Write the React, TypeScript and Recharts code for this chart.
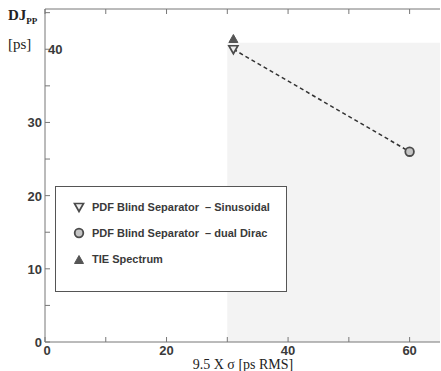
import React from 'react';
import { ScatterChart, Scatter, XAxis, YAxis, ReferenceArea } from 'recharts';

const xTicks = [0, 10, 20, 30, 40, 50, 60];
const xLabelTicks = [0, 20, 40, 60];
const yTicks = [0, 5, 10, 15, 20, 25, 30, 35, 40, 45];
const yLabelTicks = [0, 10, 20, 30, 40];

const sinusoidal = [{ x: 31, y: 40 }];
const dualDirac = [{ x: 60, y: 26 }];
const tieSpectrum = [{ x: 31, y: 41.4 }];
const trend = [...sinusoidal, ...dualDirac];

const legendItems = [
  { name: 'PDF Blind Separator  \u2013 Sinusoidal', shape: 'down' },
  { name: 'PDF Blind Separator  \u2013 dual Dirac', shape: 'circle' },
  { name: 'TIE Spectrum', shape: 'up' },
];

const INK = '#4a4a4a';
const tickFont = { fontFamily: '"Liberation Sans", Arial, sans-serif', fontWeight: 700, fontSize: 13, fill: '#3a3a3a' };

const TriDown = ({ cx, cy }: any) => (
  <path d={`M${cx - 4.5},${cy - 3.5} L${cx + 4.5},${cy - 3.5} L${cx},${cy + 4.5} Z`} fill="#eeeeee" stroke={INK} strokeWidth={1.7} />
);
const TriUp = ({ cx, cy }: any) => (
  <path d={`M${cx - 4.5},${cy + 3.5} L${cx + 4.5},${cy + 3.5} L${cx},${cy - 4.5} Z`} fill="#555" stroke="#555" strokeWidth={1} />
);
const Ring = ({ cx, cy }: any) => (
  <circle cx={cx} cy={cy} r={4.3} fill="#c4c4c4" stroke={INK} strokeWidth={1.8} />
);
const Nothing = () => <g />;

const bottomTick = ({ x, y, payload }: any) => (
  <g>
    <line x1={x} x2={x} y1={y} y2={y - 5} stroke="#777" />
    {xLabelTicks.includes(Number(payload.value)) ? (
      <text x={x + (payload.value === 0 ? 2 : 0)} y={y + 13} textAnchor="middle" {...tickFont}>{payload.value}</text>
    ) : null}
  </g>
);
const topTick = ({ x, y }: any) => <line x1={x} x2={x} y1={y} y2={y + 5} stroke="#777" />;
const leftTick = ({ x, y, payload }: any) => {
  const v = Number(payload.value);
  const right = v === 40;
  return (
    <g>
      <line x1={x} x2={x + 5} y1={y} y2={y} stroke="#777" />
      {yLabelTicks.includes(v) ? (
        <text x={right ? x + 3 : x - 3} y={y + 5} textAnchor={right ? 'start' : 'end'} {...tickFont}>{v}</text>
      ) : null}
    </g>
  );
};

const LegendIcon = ({ shape }: { shape: string }) => (
  <svg width={14} height={14} style={{ marginRight: 6 }}>
    {shape === 'down' && <TriDown cx={7} cy={7} />}
    {shape === 'up' && <TriUp cx={7} cy={8} />}
    {shape === 'circle' && <Ring cx={7} cy={7} />}
  </svg>
);

export default function App() {
  return (
    <div style={{ position: 'absolute', left: 0, top: 0, width: 441, height: 371, background: '#fff' }}>
      <ScatterChart width={441} height={371} margin={{ top: 8, right: 1, bottom: 0, left: 0 }}>
        <XAxis xAxisId="b" type="number" dataKey="x" orientation="bottom" domain={[0, 65]} ticks={xTicks}
          interval={0} height={29} tickSize={0} tickMargin={0} tickLine={false} stroke="#777" tick={bottomTick}
          allowDataOverflow />
        <XAxis xAxisId="t" type="number" dataKey="x" orientation="top" domain={[0, 65]} ticks={xTicks}
          interval={0} height={1} tickSize={0} tickMargin={0} tickLine={false} stroke="#777" tick={topTick}
          allowDataOverflow />
        <YAxis yAxisId="l" type="number" dataKey="y" domain={[0, 45.5]} ticks={yTicks} interval={0} width={45}
          tickSize={0} tickMargin={0} tickLine={false} stroke="#777" tick={leftTick} allowDataOverflow />
        <ReferenceArea xAxisId="b" yAxisId="l" x1={30} x2={65} y1={0} y2={40.9} fill="#f3f3f3" fillOpacity={1} stroke="none" />
        <Scatter xAxisId="b" yAxisId="l" data={trend} line={{ stroke: '#333', strokeWidth: 1.5, strokeDasharray: '4 3' }}
          shape={<Nothing />} isAnimationActive={false} />
        <Scatter xAxisId="b" yAxisId="l" name="TIE Spectrum" data={tieSpectrum} shape={<TriUp />} isAnimationActive={false} />
        <Scatter xAxisId="b" yAxisId="l" name="Sinusoidal" data={sinusoidal} shape={<TriDown />} isAnimationActive={false} />
        <Scatter xAxisId="b" yAxisId="l" name="dual Dirac" data={dualDirac} shape={<Ring />} isAnimationActive={false} />
        <text x={8} y={20} fontFamily='"Liberation Serif", serif' fontWeight={700} fontSize={15} fill="#222">
          DJ<tspan fontSize={9} dy={4}>PP</tspan>
        </text>
        <text x={8} y={49} fontFamily='"Liberation Serif", serif' fontSize={15} fill="#222">[ps]</text>
        <text x={243} y={369} textAnchor="middle" fontFamily='"Liberation Serif", serif' fontSize={14} fill="#222">
          9.5 X {'\u03c3'} [ps RMS]
        </text>
      </ScatterChart>
      <div style={{ position: 'absolute', left: 55, top: 186, width: 232, height: 106, border: '1px solid #555',
        background: '#fff', boxSizing: 'border-box', padding: '11px 0 0 16px',
        fontFamily: '"Liberation Sans", Arial, sans-serif', fontWeight: 700, fontSize: 11, color: '#3a3a3a' }}>
        {legendItems.map((it) => (
          <div key={it.name} style={{ display: 'flex', alignItems: 'center', height: 34, marginTop: -8, whiteSpace: 'pre' }}>
            <LegendIcon shape={it.shape} />
            <span>{it.name}</span>
          </div>
        ))}
      </div>
    </div>
  );
}
